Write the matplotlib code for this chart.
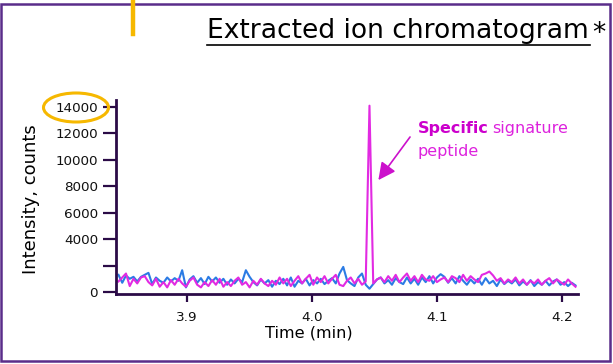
import numpy as np
import matplotlib
matplotlib.use('Agg')
import matplotlib.pyplot as plt
from matplotlib.patches import Ellipse, Rectangle
from matplotlib.lines import Line2D

# sampling grid of the chromatogram (min)
t_start = 3.845
t_step = 0.003

# blue trace (intensity, counts)
blue_counts = [
    1300, 700, 1250, 1000, 1150, 800, 1150, 1300, 1450, 600,
    1100, 850, 700, 1100, 800, 1050, 850, 1650, 350, 950,
    1200, 700, 1050, 600, 1150, 800, 1100, 700, 1000, 550,
    950, 650, 1000, 750, 1650, 1150, 750, 500, 950, 650,
    900, 400, 850, 600, 1000, 500, 1100, 400, 850, 650,
    1000, 500, 900, 650, 1000, 600, 850, 1050, 650, 1400,
    1900, 900, 650, 450, 1100, 1400, 550, 250, 600, 950,
    1100, 650, 900, 550, 1050, 750, 600, 1100, 650, 1000,
    550, 1100, 750, 1200, 650, 1100, 1350, 1150, 700, 1050,
    650, 1200, 850, 550, 950, 650, 1000, 550, 1050, 650,
    850, 450, 950, 600, 850, 650, 950, 500, 800, 550,
    900, 450, 750, 550, 850, 500, 800, 950, 550, 750,
    450, 700, 500,
]

# magenta trace (intensity, counts) with the signature peptide peak
magenta_counts = [
    800, 1100, 1400, 450, 1000, 650, 1100, 1200, 750, 500,
    1000, 400, 750, 350, 900, 550, 1000, 650, 400, 850,
    1100, 550, 350, 750, 450, 900, 550, 1000, 400, 750,
    450, 850, 1100, 550, 750, 350, 850, 550, 1000, 650,
    450, 850, 550, 1100, 650, 1000, 450, 850, 1200, 650,
    1000, 1300, 550, 1100, 750, 1200, 650, 1000, 1300, 550,
    450, 850, 1100, 650, 1000, 550, 800, 14100, 650, 950,
    1100, 750, 1200, 850, 1300, 750, 1100, 1400, 850, 1200,
    750, 1300, 950, 850, 1200, 750, 950, 1100, 750, 1200,
    1050, 750, 1300, 850, 1200, 950, 750, 1300, 1400, 1550,
    1250, 850, 1050, 650, 950, 750, 1100, 650, 950, 550,
    850, 650, 950, 550, 850, 1050, 650, 950, 750, 550,
    950, 650, 400,
]

y_ticks = [0, 2000, 4000, 6000, 8000, 10000, 12000, 14000]
y_ticklabels = ['0', '', '4000', '6000', '8000', '10000', '12000', '14000']
x_ticks = [3.9, 4.0, 4.1, 4.2]
x_ticklabels = ['3.9', '4.0', '4.1', '4.2']

t_blue = t_start + t_step * np.arange(len(blue_counts))
t_mag = t_start + t_step * np.arange(len(magenta_counts))

axis_col = '#2b0b47'
blue = '#2b7be4'
magenta = '#e22ae2'

fig = plt.figure(figsize=(6.13, 3.64), dpi=100)
ax = fig.add_axes([116 / 613, 1 - 294 / 364, 462 / 613, 194 / 364])

ax.plot(t_blue, blue_counts, color=blue, lw=1.5)
ax.plot(t_mag, magenta_counts, color=magenta, lw=1.5)

ax.set_xlim(3.843, 4.213)
ax.set_ylim(-150, 14530)
ax.set_yticks(y_ticks)
ax.set_yticklabels(y_ticklabels)
ax.set_xticks(x_ticks)
ax.set_xticklabels(x_ticklabels)

for s in ['top', 'right']:
    ax.spines[s].set_visible(False)
for s in ['left', 'bottom']:
    ax.spines[s].set_color(axis_col)
    ax.spines[s].set_linewidth(2)
ax.tick_params(axis='y', direction='out', length=9.5, width=1.6, color=axis_col,
               pad=3.5, labelsize=9.7, labelcolor='#111111')
ax.tick_params(axis='x', direction='out', length=6, width=1.6, color=axis_col,
               pad=6, labelsize=9.7, labelcolor='#111111')

ax.set_xlabel('Time (min)', fontsize=11.6)
ax.xaxis.set_label_coords((309 - 116) / 462, (294 - 325) / 194)
ax.set_ylabel('Intensity, counts', fontsize=13)
ax.yaxis.set_label_coords((40 - 116) / 462, (294 - 199) / 194)

# annotation for the peak
ax.annotate('', xy=(4.0518, 8300), xytext=(4.0798, 11900),
            arrowprops=dict(arrowstyle='-|>', color='#cc11cc', lw=1.2,
                            mutation_scale=26))
ax.text(4.0846, 12400, 'Specific', color='#cc00cc', fontsize=11.5,
        fontweight='bold', va='center', ha='left', clip_on=False)
ax.text(4.1446, 12400, 'signature', color='#dd22dd', fontsize=11.5,
        va='center', ha='left', clip_on=False)
ax.text(4.0846, 10600, 'peptide', color='#dd22dd', fontsize=11.5,
        va='center', ha='left', clip_on=False)

# title with underline
fig.text(207 / 613, 1 - 31 / 364, 'Extracted ion chromatogram', fontsize=19.1,
         va='center', ha='left', color='black')
fig.text(592 / 613, 1 - 34 / 364, '*', fontsize=19, va='center', ha='left')
fig.add_artist(Line2D([207 / 613, 590 / 613], [1 - 44.5 / 364, 1 - 44.5 / 364],
                      transform=fig.transFigure, color='black', lw=1.2))

# highlight marks
fig.add_artist(Ellipse((76 / 613, 1 - 107.5 / 364), 65 / 613, 29 / 364,
                       transform=fig.transFigure, fill=False,
                       edgecolor='#f6b800', lw=2.2))
fig.add_artist(Line2D([133 / 613, 133 / 613], [1.0, 1 - 34 / 364],
                      transform=fig.transFigure, color='#f6b800', lw=3.2))

# frame around the panel
fig.add_artist(Rectangle((1.5 / 613, 1 - 361 / 364), 608.5 / 613, 357 / 364,
                         transform=fig.transFigure, fill=False,
                         edgecolor='#5a2d8a', lw=1.8))

fig.savefig('out.png', dpi=100)
